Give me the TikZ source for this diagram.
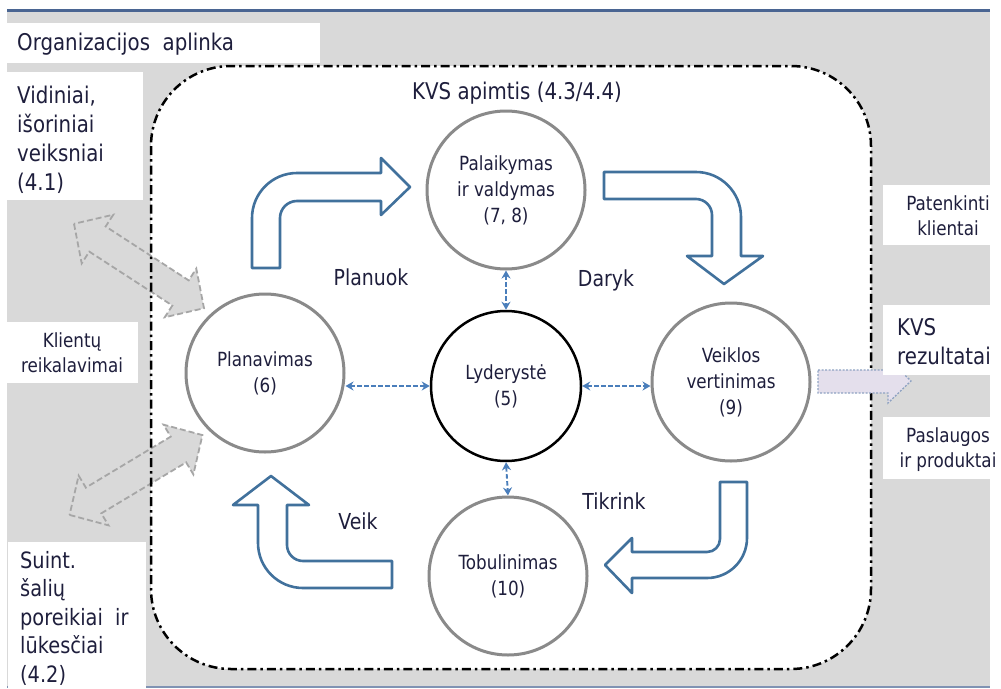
\documentclass[tikz,border=0pt]{standalone}
\usepackage{fontspec}
\setmainfont{DejaVu Sans}[FakeStretch=0.86]
\usetikzlibrary{arrows.meta}
\definecolor{bggray}{HTML}{D9D9D9}
\definecolor{topblue}{HTML}{4A6592}
\definecolor{txtc}{HTML}{1E1E3C}
\definecolor{circgray}{HTML}{8A8A8A}
\definecolor{arrblue}{HTML}{41719C}
\definecolor{linkblue}{HTML}{4A7EBB}
\definecolor{dashgray}{HTML}{A6A6A6}
\definecolor{resfill}{HTML}{E4DFEC}
\definecolor{resline}{HTML}{8EA2C2}
\newcommand\fbig{\fontsize{23}{29}\selectfont}
\newcommand\fsuint{\fontsize{22.5}{28.5}\selectfont}
\newcommand\fverb{\fontsize{22}{26}\selectfont}
\newcommand\fcirc{\fontsize{19.5}{26}\selectfont}
\newcommand\fsml{\fontsize{19.5}{25}\selectfont}
\begin{document}
\begin{tikzpicture}[x=1pt,y=-1pt,
  txt/.style={text=txtc, inner sep=0pt},
  circ/.style={circle, draw=circgray, line width=3pt, fill=white, minimum size=158pt, inner sep=0pt, align=center, font=\fcirc, text=txtc},
  blockarrow/.style={draw=arrblue, line width=2.6pt, fill=white, line join=round},
  grayarrow/.style={draw=dashgray, fill=bggray, line width=1.8pt, dash pattern=on 6pt off 3pt},
  link/.style={draw=linkblue, line width=1.9pt, dash pattern=on 4.5pt off 2.5pt, {Stealth[length=8pt,width=9pt]}-{Stealth[length=8pt,width=9pt]}},
  resarrow/.style={draw=resline, fill=resfill, line width=1.3pt, dash pattern=on 2pt off 1.5pt}
]
\useasboundingbox (0,0) rectangle (1001,688);
% background
\fill[bggray] (7,11) rectangle (990,686);
\draw[topblue, line width=3pt] (7,10) -- (990,10);
\draw[topblue!70, line width=1.5pt] (7,687) -- (990,687);
% scope area
\fill[white, rounded corners=80pt] (151,66) rectangle (871,669);
% gray double arrows
\begin{scope}[shift={(139,266)}, rotate=-33]
\draw[grayarrow] (-77.5,0) -- (-49.5,29) -- (-49.5,15) -- (49.5,15) -- (49.5,29) -- (77.5,0) -- (49.5,-29) -- (49.5,-15) -- (-49.5,-15) -- (-49.5,-29) -- cycle;
\end{scope}
\begin{scope}[shift={(136,475)}, rotate=31]
\draw[grayarrow] (-77.5,0) -- (-49.5,29) -- (-49.5,15) -- (49.5,15) -- (49.5,29) -- (77.5,0) -- (49.5,-29) -- (49.5,-15) -- (-49.5,-15) -- (-49.5,-29) -- cycle;
\end{scope}
% border
\draw[line width=2.5pt, dash pattern=on 9pt off 4pt on 2.5pt off 4pt, rounded corners=80pt] (151,66) rectangle (871,669);
% result arrow
\draw[resarrow] (818,370) -- (888,370) -- (888,359) -- (911,381) -- (888,403) -- (888,393) -- (818,393) -- cycle;
% white label boxes
\fill[white] (7,23) rectangle (320,63);
\fill[white] (7,72) rectangle (143,200);
\fill[white] (7,322) rectangle (138,383);
\fill[white] (8,542) rectangle (146,688);
\fill[white] (883,185) rectangle (1001,245);
\fill[white] (883,305) rectangle (1001,375);
\fill[white] (883,417) rectangle (1001,479);
% outside labels
\node[txt, font=\fbig, anchor=west] (org) at (17,44) {Organizacijos\ \ aplinka};
\node[txt, font=\fbig, anchor=north west, align=left] (vid) at (17,86) {Vidiniai,\\išoriniai\\veiksniai\\(4.1)};
\node[txt, font=\fsml, align=center] (kli) at (72,353) {Klientų\\reikalavimai};
\node[txt, font=\fsuint, anchor=north west, align=left] (suint) at (20,551) {Suint.\\šalių\\poreikiai\ \ ir\\lūkesčiai\\(4.2)};
\node[txt, font=\fsml, align=center] (pat) at (948,216) {Patenkinti\\klientai};
\node[txt, font=\fbig, anchor=north west, align=left] (res) at (897,318) {KVS\\rezultatai};
\node[txt, font=\fsml, align=center] (pas) at (948,450) {Paslaugos\\ir produktai};
\node[txt, font=\fbig] (scope) at (517,93) {KVS apimtis\ (4.3/4.4)};
% circles
\node[circ] (palk) at (506,190) {Palaikymas\\ir valdymas\\(7, 8)};
\node[circ] (plan) at (265,373) {Planavimas\\(6)};
\node[circ, draw=black, line width=2.5pt, minimum size=150pt] (lead) at (506,386) {Lyderystė\\(5)};
\node[circ] (veik) at (731,382) {Veiklos\\vertinimas\\(9)};
\node[circ] (tob) at (508,576) {Tobulinimas\\(10)};
% links
\draw[link] (plan.east |- lead.center) -- (lead.west);
\draw[link] (lead.east) -- (veik.west |- lead.center);
\draw[link] (palk.south) -- (lead.north);
\draw[link] (lead.south) -- (tob.north);
% block arrows
\draw[blockarrow] (252,268) -- (252,218) .. controls (252,193.2) and (272.2,173) .. (297,173) -- (381,173) -- (381,158) -- (410,187) -- (381,215) -- (381,201) -- (297,201) .. controls (287.6,201) and (280,208.6) .. (280,218) -- (280,268) -- cycle;
\draw[blockarrow] (604,172) -- (696,172) .. controls (720.8,172) and (741,192.2) .. (741,217) -- (741,256) -- (763,256) -- (724,284) -- (687,256) -- (712,256) -- (712,215) .. controls (712,206.2) and (704.8,199) .. (696,199) -- (604,199) -- cycle;
\draw[blockarrow] (720,482) -- (747,482) -- (747,538) .. controls (747,560.1) and (729.1,578) .. (707,578) -- (632,578) -- (632,593) -- (605,565) -- (632,538) -- (632,552) -- (707,552) .. controls (714.2,552) and (720,546.2) .. (720,539) -- cycle;
\draw[blockarrow] (392,561) -- (303,561) .. controls (294.2,561) and (287,553.8) .. (287,545) -- (287,505) -- (309,505) -- (271,476) -- (233,505) -- (258,505) -- (258,543) .. controls (258,567.8) and (278.2,588) .. (303,588) -- (392,588) -- cycle;
% verbs
\node[txt, font=\fverb] (planuok) at (371,277) {Planuok};
\node[txt, font=\fverb] (daryk) at (606,280) {Daryk};
\node[txt, font=\fverb] (veikl) at (358,521) {Veik};
\node[txt, font=\fverb] (tikr) at (614,501) {Tikrink};
\end{tikzpicture}
\end{document}
